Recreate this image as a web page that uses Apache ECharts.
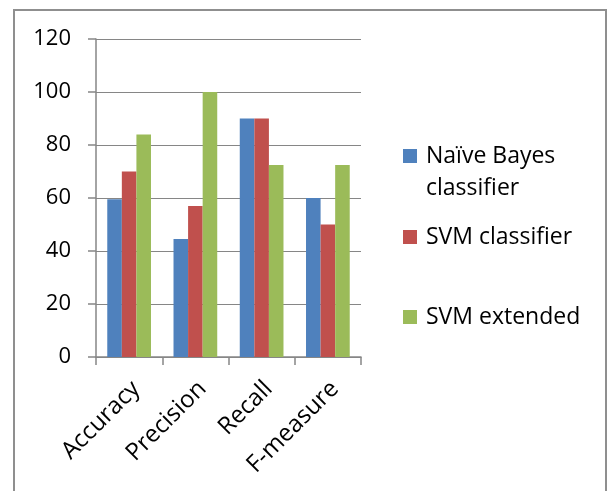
<!DOCTYPE html>
<html>
<head>
<meta charset="utf-8">
<script src="https://cdn.jsdelivr.net/npm/echarts@6/dist/echarts.min.js"></script>
<style>
html,body{margin:0;padding:0;background:#fff;}
#frame{position:absolute;left:13px;top:9px;width:594px;height:520px;border:2px solid #8f8f8f;box-sizing:border-box;}
#chart{position:absolute;left:0;top:0;width:613px;height:491px;}
</style>
</head>
<body>
<div id="frame"></div>
<div id="chart"></div>
<script>
const categories = ['Accuracy', 'Precision', 'Recall', 'F-measure'];
const seriesNames = ['Naïve Bayes classifier', 'SVM classifier', 'SVM extended'];
const naiveBayes = [59.5, 44.5, 90, 60];
const svmClassifier = [70, 57, 90, 50];
const svmExtended = [84, 100, 72.5, 72.5];
const yTicks = { min: 0, max: 120, interval: 20 };
const colors = ['#4F81BD', '#C0504D', '#9BBB59'];

const FONT = '"Open Sans", sans-serif';
const gray = '#868686';

const chart = echarts.init(document.getElementById('chart'), null, { renderer: 'canvas' });

function legendFor(i, top) {
  return {
    show: true,
    data: [seriesNames[i]],
    left: 403,
    top: top,
    orient: 'vertical',
    padding: 0,
    itemWidth: 14,
    itemHeight: 14,
    icon: 'rect',
    selectedMode: false,
    formatter: function (n) { return n === 'Naïve Bayes classifier' ? '\u00a0\nNaïve Bayes\nclassifier' : n; },
    textStyle: {
      fontFamily: FONT, fontSize: 23, color: '#000', lineHeight: 32,
      padding: [0, 0, 0, 4]
    }
  };
}

const option = {
  backgroundColor: 'transparent',
  animation: false,
  color: colors,
  textStyle: { fontFamily: FONT },
  grid: { left: 96, right: 252, top: 39, bottom: 134, containLabel: false },
  legend: [legendFor(0, 108), legendFor(1, 221), legendFor(2, 301)],
  xAxis: {
    type: 'category',
    data: categories,
    axisLine: { lineStyle: { color: gray, width: 1.5 } },
    axisTick: { show: true, length: 8, lineStyle: { color: gray, width: 1.5 } },
    axisLabel: {
      rotate: 45, margin: 21, color: '#000', fontSize: 24, fontFamily: FONT, interval: 0,
      align: 'right', verticalAlign: 'top', lineHeight: 20
    }
  },
  yAxis: {
    type: 'value',
    min: yTicks.min, max: yTicks.max, interval: yTicks.interval,
    axisLine: { show: true, lineStyle: { color: gray, width: 1.5 } },
    axisTick: { show: true, length: 8, lineStyle: { color: gray, width: 1.5 } },
    splitLine: { show: true, lineStyle: { color: gray, width: 1.2 } },
    axisLabel: { margin: 25, color: '#000', fontSize: 22, fontFamily: FONT }
  },
  series: [
    { name: seriesNames[0], type: 'bar', data: naiveBayes, barGap: '0%', barCategoryGap: '34%' },
    { name: seriesNames[1], type: 'bar', data: svmClassifier, barGap: '0%', barCategoryGap: '34%' },
    { name: seriesNames[2], type: 'bar', data: svmExtended, barGap: '0%', barCategoryGap: '34%' }
  ]
};
chart.setOption(option);
</script>
</body>
</html>
